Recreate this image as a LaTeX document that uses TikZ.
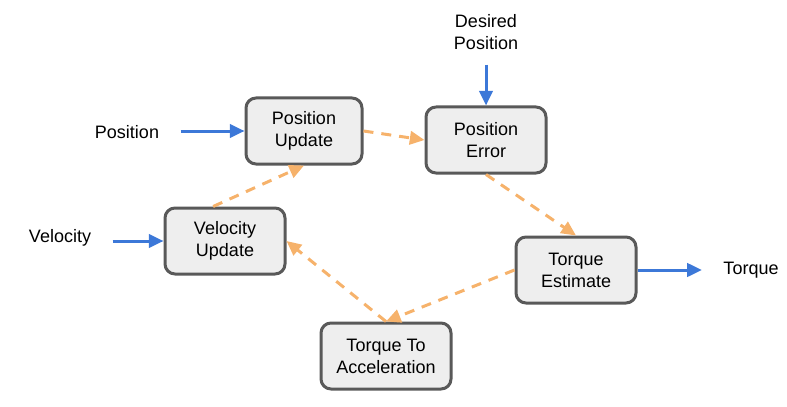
\documentclass[tikz,border=0pt]{standalone}
\usepackage{fontspec}
\setmainfont{Liberation Sans}
\usetikzlibrary{arrows.meta}
\definecolor{boxline}{HTML}{595959}
\definecolor{boxfill}{HTML}{EEEEEE}
\definecolor{flowblue}{HTML}{3C78D8}
\definecolor{flowtan}{HTML}{F6B26B}
\tikzset{
  block/.style={draw=boxline,fill=boxfill,line width=2.25pt,rounded corners=7.5pt,
    align=center,minimum height=49.5pt,inner sep=2pt},
  lbl/.style={inner sep=0pt,align=center},
  feed/.style={draw=flowblue,line width=2.25pt,-{Triangle[length=11pt,width=10pt]}},
  loop/.style={draw=flowtan,line width=2.25pt,dash pattern=on 7.5pt off 6pt,
    -{Triangle[length=11pt,width=10pt]}}
}
\begin{document}
\begin{tikzpicture}[x=0.75pt,y=-0.75pt,line join=round,font=\fontsize{13.5}{16.5}\selectfont]
	\useasboundingbox (0,0) rectangle (787,406);
	% blocks
	\node[block,minimum width=87pt] (posupd) at (304,131) {Position\\Update};
	\node[block,minimum width=90pt] (poserr) at (486,140) {Position\\Error};
	\node[block,minimum width=90pt] (velupd) at (225,241) {Velocity\\Update};
	\node[block,minimum width=90pt] (torqest) at (576,270) {Torque\\Estimate};
	\node[block,minimum width=97.5pt] (torqacc) at (386,356) {Torque To\\Acceleration};
	% inputs and output
	\node[lbl] (poslbl) at (127,132) {Position};
	\node[lbl] (vellbl) at (60,238) {Velocity};
	\node[lbl] (deslbl) at (486,32) {Desired\\Position};
	\node[lbl] (torqlbl) at (751,270) {Torque};
	\draw[feed,shorten <=16pt] (posupd.west -| poslbl.east) -- (posupd.west);
	\draw[feed,shorten <=16pt] (velupd.west -| vellbl.east) -- (velupd.west);
	\draw[feed,shorten <=11pt] (deslbl.south) -- (poserr.north);
	\draw[feed,shorten >=16pt] (torqest.east) -- (torqest.east -| torqlbl.west);
	% loop
	\draw[loop] (posupd.east) -- (poserr.west);
	\draw[loop] (poserr.south) -- (torqest.north);
	\draw[loop] (torqest.west) -- (torqacc.north);
	\draw[loop] (torqacc.north) -- (velupd.east);
	\draw[loop] (velupd.109) -- (posupd.south);
\end{tikzpicture}
\end{document}
